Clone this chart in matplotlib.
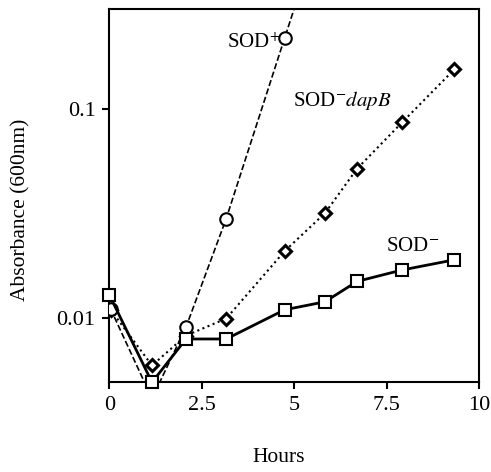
import matplotlib
matplotlib.use("Agg")
import matplotlib.pyplot as plt
from matplotlib.ticker import FixedLocator, NullLocator

plt.rcParams['font.family'] = ['Liberation Serif', 'DejaVu Serif']
plt.rcParams['mathtext.fontset'] = 'stix'

# hours / absorbance
hours_plus = [0.03, 1.15, 2.07, 3.16, 4.74, 5.83]
sod_plus = [0.011, 0.0041, 0.0090, 0.0298, 0.218, 0.85]

hours_dapb = [0.03, 1.15, 2.07, 3.16, 4.74, 5.83, 6.70, 7.92, 9.33]
sod_dapb = [0.0109, 0.0059, 0.0082, 0.0099, 0.0208, 0.0316, 0.0516, 0.0860, 0.154]

hours_minus = [0.0, 1.15, 2.07, 3.16, 4.74, 5.83, 6.70, 7.92, 9.33]
sod_minus = [0.0128, 0.0049, 0.0079, 0.0079, 0.0109, 0.0119, 0.0149, 0.0169, 0.0189]

fig = plt.figure(figsize=(4.91, 4.72), dpi=100)
ax = fig.add_axes([0.223, 0.19, 0.7526, 0.791])

ax.plot(hours_plus, sod_plus, ls='--', lw=1.2, c='k', marker='o', ms=9,
        mfc='white', mec='k', mew=1.5, zorder=3)
ax.plot(hours_dapb, sod_dapb, ls=':', lw=1.5, c='k', marker='D', ms=6.5,
        mfc='white', mec='k', mew=2.2, zorder=2)
ax.plot(hours_minus, sod_minus, ls='-', lw=2, c='k', marker='s', ms=9,
        mfc='white', mec='k', mew=1.5, zorder=4, clip_on=False)

ax.set_yscale('log')
ax.set_xlim(0, 10)
ax.set_ylim(0.0049, 0.30)
ax.xaxis.set_major_locator(FixedLocator([0, 2.5, 5, 7.5, 10]))
ax.set_xticklabels(['0', '2.5', '5', '7.5', '10'])
ax.yaxis.set_major_locator(FixedLocator([0.01, 0.1]))
ax.yaxis.set_minor_locator(NullLocator())
ax.set_yticklabels(['0.01', '0.1'])
ax.tick_params(labelsize=16, width=1.5, length=5, direction='out', pad=5)
for s in ax.spines.values():
    s.set_linewidth(1.5)

ax.text(3.18, 0.205, r"SOD$^{+}$", fontsize=15, ha='left', va='center')
ax.text(4.96, 0.109, r"SOD$^{-}$$\mathit{dapB}$", fontsize=15, ha='left', va='center')
ax.text(7.47, 0.0219, r"SOD$^{-}$", fontsize=15, ha='left', va='center')

fig.text(0.042, 0.555, "Absorbance (600nm)", rotation=90, fontsize=15.5,
         ha='center', va='center')
fig.text(0.568, 0.03, "Hours", fontsize=15.5, ha='center', va='center')

fig.savefig("out.png", dpi=100)
